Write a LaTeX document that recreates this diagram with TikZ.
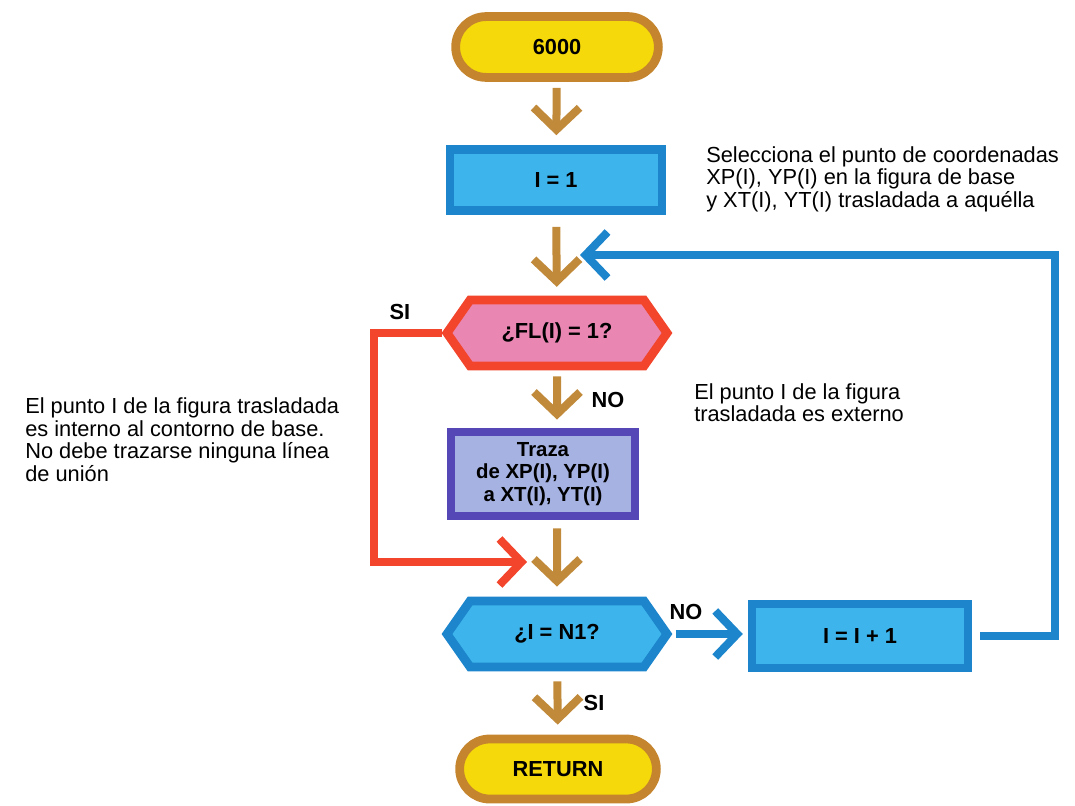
\documentclass[tikz,border=0pt]{standalone}
\usepackage{fontspec}
\setmainfont{Liberation Sans}
\usetikzlibrary{arrows.meta, shapes.misc, shapes.symbols}
\definecolor{termfill}{HTML}{F5D90A}
\definecolor{termline}{HTML}{C4852E}
\definecolor{flowbrown}{HTML}{C08A3A}
\definecolor{bluefill}{HTML}{3DB5EC}
\definecolor{blueline}{HTML}{1C85CC}
\definecolor{redline}{HTML}{F2452B}
\definecolor{pinkfill}{HTML}{E986B2}
\definecolor{lavfill}{HTML}{A6B2E2}
\definecolor{purpline}{HTML}{5547B5}
\tikzset{
  % Start / end terminals
  terminal/.style={
    draw=termline, fill=termfill, rounded rectangle,
    line width=0.22cm, minimum width=5.3cm, minimum height=1.52cm,
    font=\fontsize{15.5}{17}\selectfont\bfseries
  },
  % Process boxes
  process/.style={
    draw=blueline, fill=bluefill, rectangle,
    line width=0.22cm, minimum width=5.3cm, minimum height=1.52cm,
    font=\fontsize{15.5}{17}\selectfont\bfseries
  },
  tracebox/.style={
    draw=purpline, fill=lavfill, rectangle, align=center,
    line width=0.22cm, minimum width=4.6cm, minimum height=2.1cm,
    inner sep=2pt, font=\fontsize{14.5}{16}\selectfont\bfseries
  },
  % Decisions
  decision/.style={
    signal, signal to=west and east, signal pointer angle=110,
    line width=0.22cm, minimum width=5.5cm, minimum height=1.65cm,
    font=\fontsize{15.5}{17}\selectfont\bfseries
  },
  % Connectors
  flow/.style={
    draw=flowbrown, line width=0.2cm,
    -{Straight Barb[length=0.55cm, width=1.15cm]}
  },
  loopflow/.style={
    draw=blueline, line width=0.2cm,
    -{Straight Barb[length=0.55cm, width=1.15cm]}
  },
  redflow/.style={
    draw=redline, line width=0.2cm,
    -{Straight Barb[length=0.55cm, width=1.15cm]}
  },
  % Texts
  note/.style={
    align=left, anchor=north west, inner sep=0pt,
    font=\fontsize{15.5}{16.3}\selectfont
  },
  flowlabel/.style={font=\fontsize{15.5}{17}\selectfont\bfseries, inner sep=0pt},
}

\begin{document}
\begin{tikzpicture}[x=0.025cm, y=-0.025cm]
  \useasboundingbox (0,0) rectangle (1075,806);

  %% ── Nodes ──
  \node[terminal] (startN) at (557,47) {6000};
  \node[process]  (initI)  at (556,180) {I = 1};
  \node[decision, draw=redline, fill=pinkfill] (testFL) at (557,333) {¿FL(I) = 1?};
  \node[tracebox] (traza)  at (543,474) {Traza\\de XP(I), YP(I)\\a XT(I), YT(I)};
  \node[decision, draw=blueline, fill=bluefill] (testN1) at (557,634) {¿I = N1?};
  \node[process, minimum width=5.4cm, minimum height=1.6cm] (incI) at (860,636) {I = I + 1};
  \node[terminal, minimum width=5.15cm, minimum height=1.5cm] (returnN) at (558,769) {RETURN};

  %% ── Join points on the trunk ──
  \coordinate (joinA) at (557,255);
  \coordinate (joinB) at (557,562);

  %% ── Main flow ──
  \draw[flow, shorten <=0.15cm, shorten >=0.25cm] (startN) -- (initI);
  \draw[flow, shorten <=0.3cm, shorten >=0.22cm] (initI) -- (testFL);
  \draw[flow, shorten <=0.15cm, shorten >=0.2cm] (testFL) -- (testFL |- traza.north);
  \draw[flow, shorten <=0.2cm, shorten >=0.25cm] (testN1 |- traza.south) -- (testN1);
  \draw[flow, shorten <=0.25cm, shorten >=0.25cm] (testN1) -- (returnN);

  %% ── Branches ──
  \draw[redflow, shorten >=0.75cm] (testFL.west) -- (374,333) |- (joinB);
  \draw[loopflow, shorten <=0.08cm, shorten >=0.12cm] (testN1.east) -- (testN1.east -| incI.west);
  \draw[loopflow, shorten <=0.2cm, shorten >=0.575cm] (incI.east) -- (1055,636) |- (joinA);

  %% ── Labels ──
  \node[flowlabel] (siFL) at (400,312) {SI};
  \node[flowlabel] (noFL) at (608,400) {NO};
  \node[flowlabel] (noN1) at (686,612) {NO};
  \node[flowlabel] (siN1) at (594,703) {SI};

  %% ── Notes ──
  \node[note] (noteSel) at (706,146) {Selecciona el punto de coordenadas\\XP(I), YP(I) en la figura de base\\y XT(I), YT(I) trasladada a aquélla};
  \node[note] (noteExt) at (694,383) {El punto I de la figura\\trasladada es externo};
  \node[note] (noteInt) at (25,397) {El punto I de la figura trasladada\\es interno al contorno de base.\\No debe trazarse ninguna línea\\de unión};

\end{tikzpicture}
\end{document}
